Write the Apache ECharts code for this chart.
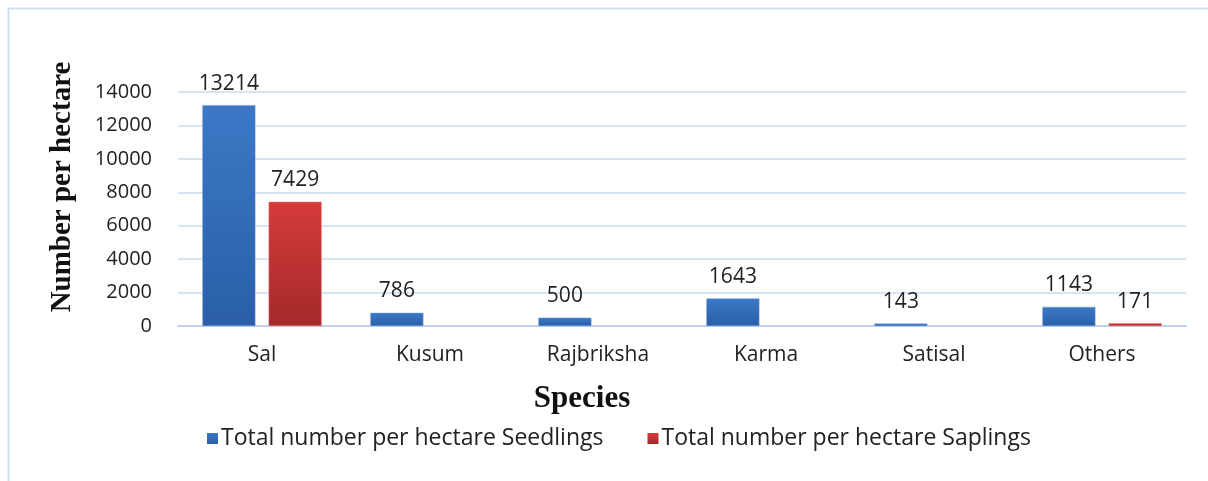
<!DOCTYPE html>
<html><head><meta charset="utf-8">
<script src="https://cdn.jsdelivr.net/npm/echarts@6/dist/echarts.min.js"></script>
<style>html,body{margin:0;padding:0;background:#fff}#c{width:1208px;height:481px}</style>
</head><body><div id="c"></div>
<script>
const categories = ['Sal','Kusum','Rajbriksha','Karma','Satisal','Others'];
const seedlings = [13214, 786, 500, 1643, 143, 1143];
const saplings = [7429, null, null, null, null, 171];
const seriesNames = ['Total number per hectare Seedlings','Total number per hectare Saplings'];

const chart = echarts.init(document.getElementById('c'));
const grad = (a,b)=>new echarts.graphic.LinearGradient(0,0,0,1,[{offset:0,color:a},{offset:1,color:b}]);
const lbl = {show:true, position:'top', distance:11, color:'#222', fontSize:21, fontFamily:'Open Sans'};
chart.setOption({
  animation:false,
  graphic:[{type:'rect', shape:{x:8.5,y:8.5,width:1210,height:480}, style:{fill:'none', stroke:'#cfe0f3', lineWidth:2}, silent:true}],
  grid:{left:178, right:22, top:92, bottom:155},
  legend:{top:422, left:202, itemGap:44, itemWidth:11, itemHeight:11, icon:'rect',
    itemStyle:{borderWidth:0},
    textStyle:{fontSize:23, color:'#222', fontFamily:'Open Sans', padding:[0,0,0,-2]}},
  xAxis:{type:'category', data:categories, name:'Species', nameLocation:'middle', nameGap:57,
    nameTextStyle:{fontFamily:'Liberation Serif', fontWeight:'bold', fontSize:31, color:'#111', padding:[0,200,0,0]},
    axisLine:{lineStyle:{color:'#bcd2ee', width:2}}, axisTick:{show:false},
    axisLabel:{margin:19, fontSize:21, color:'#222', fontFamily:'Open Sans'}},
  yAxis:{type:'value', min:0, max:14000, interval:2000, name:'Number per hectare', nameLocation:'middle', nameGap:101,
    nameTextStyle:{fontFamily:'Liberation Serif', fontWeight:'bold', fontSize:29, color:'#111', padding:[0,0,0,44]},
    axisLabel:{margin:26, fontSize:20, color:'#222', fontFamily:'Open Sans', formatter:v=>String(v)},
    splitLine:{lineStyle:{color:'#c9dcf2', width:1.5}}},
  series:[
    {name:seriesNames[0], type:'bar', data:seedlings, barWidth:53, barGap:'25%',
     itemStyle:{color:grad('#3c78c6','#2a5fa8'), borderColor:'#6e9bd6', borderWidth:0.5}, label:lbl},
    {name:seriesNames[1], type:'bar', data:saplings, barWidth:53,
     itemStyle:{color:grad('#d53b3b','#a52929'), borderColor:'#e07575', borderWidth:0.5}, label:lbl}
  ]
});
</script></body></html>
